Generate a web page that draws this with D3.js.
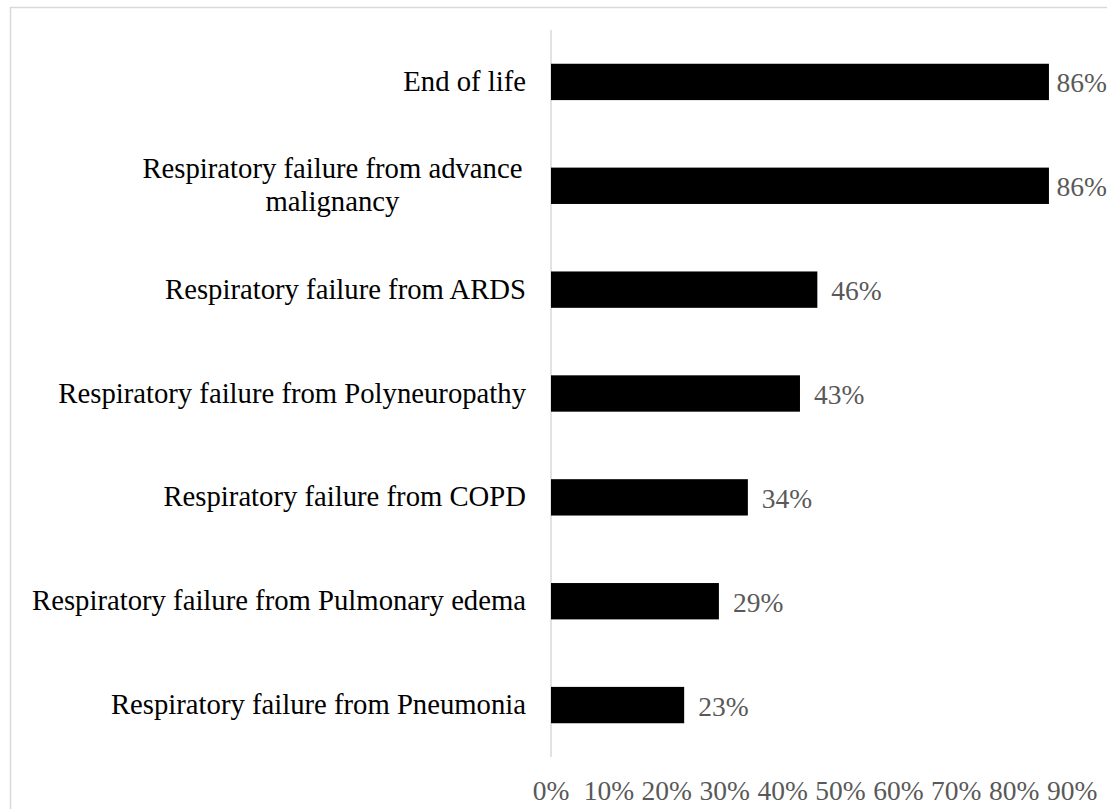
<!DOCTYPE html>
<html>
<head>
<meta charset="utf-8">
<script src="https://cdn.jsdelivr.net/npm/d3@7"></script>
<style>
  body { margin: 0; background: #fff; }
  svg { display: block; }
</style>
</head>
<body>
<div id="chart"></div>
<script>
// data, top to bottom as drawn
var categories = [
    "End of life",
    "Respiratory failure from advance\nmalignancy",
    "Respiratory failure from ARDS",
    "Respiratory failure from Polyneuropathy",
    "Respiratory failure from COPD",
    "Respiratory failure from Pulmonary edema",
    "Respiratory failure from Pneumonia"
];
var values = [0.86, 0.86, 0.46, 0.43, 0.34, 0.29, 0.23];
var tickValues = [0, 0.1, 0.2, 0.3, 0.4, 0.5, 0.6, 0.7, 0.8, 0.9];

var svgWidth = 1107;
var svgHeight = 809;
var font = "'Liberation Serif', 'Times New Roman', serif";
var catSize = 28.7;
var numSize = 27.5;

var svg = d3.select("#chart")
    .append("svg")
    .attr("width", svgWidth)
    .attr("height", svgHeight);

svg.append("rect")
    .attr("width", svgWidth)
    .attr("height", svgHeight)
    .attr("fill", "#fff");

// chart area border (runs off the right and bottom edges)
svg.append("rect")
    .attr("x", 10.5)
    .attr("y", 7.5)
    .attr("width", svgWidth + 20)
    .attr("height", svgHeight + 20)
    .attr("fill", "none")
    .attr("stroke", "#d9d9d9")
    .attr("stroke-width", 1.5);

var data = categories.map(function (c, i) {
    return { cat: c, value: values[i] };
});

var xScale = d3.scaleLinear()
    .domain([0, 0.9])
    .range([551, 551 + 0.9 * 579]);

var yScale = d3.scaleBand()
    .domain(categories)
    .range([30, 757])
    .paddingInner(0.65)
    .paddingOuter(0.325);

// vertical axis line
svg.append("line")
    .attr("x1", xScale(0))
    .attr("x2", xScale(0))
    .attr("y1", yScale.range()[0])
    .attr("y2", yScale.range()[1])
    .attr("stroke", "#d9d9d9")
    .attr("stroke-width", 1.5);

// bars
svg.selectAll(".bar")
    .data(data)
    .enter()
    .append("rect")
    .attr("class", "bar")
    .attr("x", xScale(0))
    .attr("y", function (d) { return yScale(d.cat); })
    .attr("width", function (d) { return xScale(d.value) - xScale(0); })
    .attr("height", yScale.bandwidth())
    .attr("fill", "#000");

// data labels, pushed back inside the chart if they would overflow
svg.selectAll(".dlabel")
    .data(data)
    .enter()
    .append("text")
    .attr("class", "dlabel")
    .attr("y", function (d) { return yScale(d.cat) + yScale.bandwidth() / 2 + 10.5; })
    .attr("font-family", font)
    .attr("font-size", numSize)
    .attr("fill", "#595959")
    .text(function (d) { return d3.format(".0%")(d.value); })
    .attr("x", function (d) {
        var w = this.getComputedTextLength();
        return Math.min(xScale(d.value) + 14, svgWidth - w);
    });

// category labels (right aligned, wrapped ones centred in their block)
var labelRight = 526;
var lineHeight = 33;
svg.selectAll(".clabel")
    .data(data)
    .enter()
    .append("text")
    .attr("class", "clabel")
    .attr("font-family", font)
    .attr("font-size", catSize)
    .attr("fill", "#000")
    .each(function (d) {
        var t = d3.select(this);
        var lines = d.cat.split("\n");
        var cy = yScale(d.cat) + yScale.bandwidth() / 2 + 9;
        var spans = lines.map(function (l, i) {
            return t.append("tspan")
                .attr("y", cy + (i - (lines.length - 1) / 2) * lineHeight)
                .text(l);
        });
        if (lines.length === 1) {
            t.attr("text-anchor", "end");
            spans[0].attr("x", labelRight);
        } else {
            var w = d3.max(spans, function (s) { return s.node().getComputedTextLength(); });
            var cx = labelRight - (w + 0.25 * catSize) / 2;
            t.attr("text-anchor", "middle");
            spans.forEach(function (s) { s.attr("x", cx); });
        }
    });

// bottom tick labels (no axis line)
svg.selectAll(".tick")
    .data(tickValues)
    .enter()
    .append("text")
    .attr("class", "tick")
    .attr("x", function (d) { return xScale(d); })
    .attr("y", 800)
    .attr("text-anchor", "middle")
    .attr("font-family", font)
    .attr("font-size", numSize)
    .attr("fill", "#595959")
    .text(function (d) { return d3.format(".0%")(d); });
</script>
</body>
</html>
